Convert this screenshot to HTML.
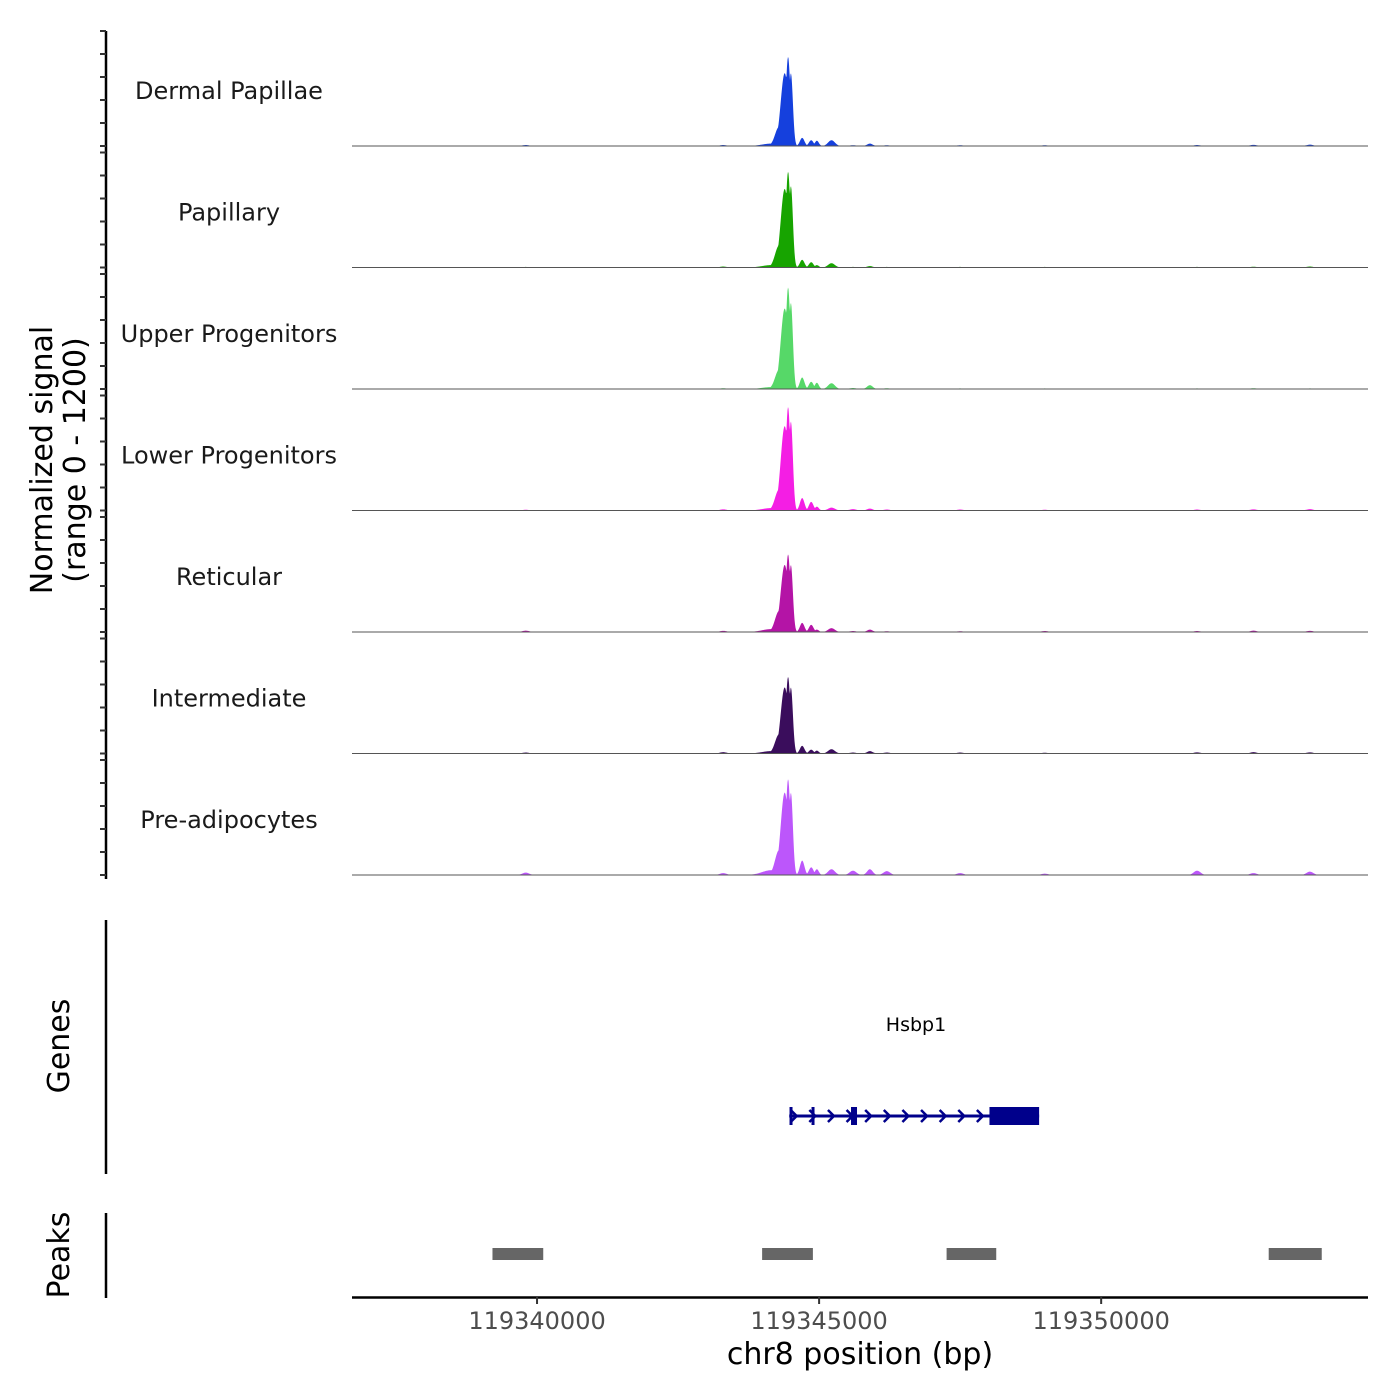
<!DOCTYPE html>
<html><head><meta charset="utf-8"><style>
body{margin:0;background:#fff;}
svg{display:block;font-family:"DejaVu Sans","Liberation Sans",sans-serif;}
</style></head><body>
<svg id="chart" width="1400" height="1400" viewBox="0 0 1400 1400" xmlns="http://www.w3.org/2000/svg">
<g id="tracks"></g>
<g id="yaxis"></g>
<text transform="translate(52,460) rotate(-90)" text-anchor="middle" font-size="30" fill="#000">Normalized signal</text>
<text transform="translate(85,460) rotate(-90)" text-anchor="middle" font-size="30" fill="#000">(range 0 - 1200)</text>
<line x1="106" y1="920" x2="106" y2="1174" stroke="#000" stroke-width="2.5"/>
<text transform="translate(69,1046) rotate(-90)" text-anchor="middle" font-size="30">Genes</text>
<line x1="106" y1="1213" x2="106" y2="1298" stroke="#000" stroke-width="2.5"/>
<text transform="translate(69,1255) rotate(-90)" text-anchor="middle" font-size="30">Peaks</text>
<g id="genes"></g>
<g id="peaks"></g>
<g id="xaxis"></g>
<text x="860" y="1364" text-anchor="middle" font-size="30">chr8 position (bp)</text>
</svg>
<script>
const NS="http://www.w3.org/2000/svg";
// ---- data ----
const trackNames=["Dermal Papillae","Papillary","Upper Progenitors","Lower Progenitors","Reticular","Intermediate","Pre-adipocytes"];
const trackColors=["#1540dd","#17a400","#56d868","#f41ee4","#b414a6","#3a0d5c","#bc56fb"];
const bumpCenters=[119344150,119344290,119344390,119344450,119344500,119344700,119344860,119344960,119345220,119345900];
const bumpWidths=[160,70,70,40,35,40,40,35,60,50];
const heightsDP=[25,200,760,930,760,85,60,55,60,25];
const heightsPap=[25,230,820,1000,850,80,55,25,45,15];
const heightsUP=[20,200,840,1060,900,120,75,65,60,40];
const heightsLP=[25,220,880,1080,930,130,90,40,30,20];
const heightsRet=[30,220,700,810,700,95,75,25,40,25];
const heightsInt=[25,200,690,800,690,80,40,30,45,25];
const heightsPre=[50,260,860,1000,860,150,80,60,60,60];
const trackHeights=[heightsDP,heightsPap,heightsUP,heightsLP,heightsRet,heightsInt,heightsPre];
const extraCenters=[119339800,119343300,119347500,119349000,119351700,119352700,119353700,119346200,119345600];
const extraHeights=[[10,10,8,8,10,12,14,8,8],[6,10,6,6,6,8,10,6,6],[5,8,6,6,6,8,6,8,10],[8,12,10,8,10,12,14,10,14],[14,12,8,10,10,14,12,8,10],[10,14,10,8,12,14,12,10,10],[25,20,20,14,45,20,35,40,45]];
const peakStarts=[119339210,119343990,119347260,119352970];
const peakEnds=[119340110,119344890,119348140,119353910];
const xTicks=[119340000,119345000,119350000];
const geneName="Hsbp1";
const geneStart=119344470;const geneEnd=119348900;
const cdsStart=119348020;
const exonPos=[119344520,119344910,119345610];
// ---- scales ----
const X0=119336720,X1=119354730,PX0=352,PX1=1368;
const xs=bp=>PX0+(bp-X0)/(X1-X0)*(PX1-PX0);
const base0=146,trackH=121.5,sigH=115,YMAX=1200;
const svg=document.getElementById('chart');
function mk(tag,attrs,parent){const e=document.createElementNS(NS,tag);for(const k in attrs)e.setAttribute(k,attrs[k]);parent.appendChild(e);return e;}
const gT=document.getElementById('tracks');
trackNames.forEach((name,i)=>{
  const base=base0+trackH*i;
  const ys=v=>base-v/YMAX*sigH;
  let d="M"+PX0+","+base;
  for(let px=PX0;px<=PX1;px+=0.5){
    const bp=X0+(px-PX0)/(PX1-PX0)*(X1-X0);
    let v=0;
    bumpCenters.forEach((c,j)=>{const z=(bp-c)/bumpWidths[j];v=Math.max(v,trackHeights[i][j]*Math.exp(-z*z/2));});
    extraCenters.forEach((c,j)=>{const z=(bp-c)/60;v=Math.max(v,extraHeights[i][j]*Math.exp(-z*z/2));});
    d+=" L"+px.toFixed(1)+","+ys(v).toFixed(2);
  }
  d+=" L"+PX1+","+base+" Z";
  const p=mk('path',{d:d,fill:trackColors[i]},gT);
  
  
  const l=mk('line',{x1:PX0,x2:PX1,y1:base,y2:base,stroke:'#555','stroke-width':1},gT);
  
  
  const t=mk('text',{x:229,y:base-55+8,'text-anchor':'middle','font-size':24,fill:'#1a1a1a'},gT);
  t.textContent=name;
  
  
});
// y axis
const gY=document.getElementById('yaxis');
const ax=mk('line',{x1:106,x2:106,y1:31,y2:base0+trackH*6+4,stroke:'#000','stroke-width':2.5},gY);


for(let i=0;i<7;i++){
  const base=base0+trackH*i;
  for(let k=0;k<=5;k++){
    const y=base-sigH*k/5;
    const tk=mk('line',{x1:100,x2:106,y1:y,y2:y,stroke:'#333','stroke-width':2},gY);
    
    
  }
}
// genes
const gG=document.getElementById('genes');
const gy=1116;
const gl=mk('line',{x1:xs(geneStart),x2:xs(geneEnd),y1:gy,y2:gy,stroke:'#00008b','stroke-width':3},gG);


const cds=mk('rect',{x:xs(cdsStart),y:gy-9,width:xs(geneEnd)-xs(cdsStart),height:18,fill:'#00008b'},gG);


exonPos.forEach(b=>{
  const r=mk('rect',{x:xs(b)-2.5,y:gy-9,width:b===exonPos[2]?6:3,height:18,fill:'#00008b'},gG);
  
  
});
for(let b=geneStart+80;b<cdsStart-100;b+=330){
  const x=xs(b);
  const a=mk('path',{d:`M${x-3},${gy-6} L${x+3},${gy} L${x-3},${gy+6}`,fill:'none',stroke:'#00008b','stroke-width':2.5},gG);
  
  
}
const gn=mk('text',{x:916,y:1031,'text-anchor':'middle','font-size':19},gG);
gn.textContent=geneName;


// peaks
const gP=document.getElementById('peaks');
peakStarts.forEach((s,i)=>{
  const r=mk('rect',{x:xs(s),y:1248,width:xs(peakEnds[i])-xs(s),height:12,fill:'#666'},gP);
  
  
});
// x axis
const gX=document.getElementById('xaxis');
const xl=mk('line',{x1:PX0,x2:PX1,y1:1297.5,y2:1297.5,stroke:'#000','stroke-width':2.5},gX);


xTicks.forEach(v=>{
  const x=xs(v);
  const tk=mk('line',{x1:x,x2:x,y1:1297,y2:1304,stroke:'#333','stroke-width':2},gX);
  
  
  const t=mk('text',{x:x,y:1329,'text-anchor':'middle','font-size':24,fill:'#4d4d4d'},gX);
  t.textContent=v;
  
  
});
</script>
</body></html>
